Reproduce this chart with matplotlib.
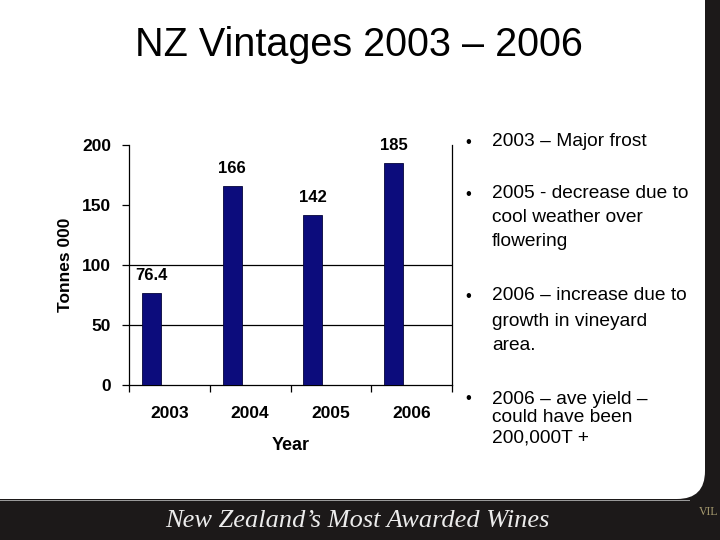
import matplotlib
matplotlib.use("Agg")
import matplotlib.pyplot as plt
from matplotlib.patches import FancyBboxPatch, Rectangle
from matplotlib.transforms import IdentityTransform

years = ["2003", "2004", "2005", "2006"]
tonnes = [76.4, 166, 142, 185]
value_labels = ["76.4", "166", "142", "185"]
y_ticks = [0, 50, 100, 150, 200]
grid_values = [50, 100]

title = "NZ Vintages 2003 \u2013 2006"
bullets = [
    ["2003 \u2013 Major frost"],
    ["2005 - decrease due to", "cool weather over", "flowering"],
    ["2006 \u2013 increase due to", "growth in vineyard", "area."],
    ["2006 \u2013 ave yield \u2013", "could have been", "200,000T +"],
]
bullet_line_y = [
    [142],
    [194, 217, 242],
    [296, 322, 345],
    [399, 418, 438],
]
footer = "New Zealand\u2019s Most Awarded Wines"

W, H = 720, 540
DARK = "#1c1919"
fig = plt.figure(figsize=(7.2, 5.4), dpi=100)
fig.patch.set_facecolor(DARK)

# white slide area with rounded bottom-right corner (pixel coordinates)
ident = IdentityTransform()
white = FancyBboxPatch((-60, 41), 765, 620, boxstyle="round,pad=0,rounding_size=28",
                       transform=ident, facecolor="white", edgecolor="none", zorder=-2)
fig.patches.append(white)
line = Rectangle((0, 39), 690, 1.5, transform=ident, facecolor="#9a9a9a",
                 edgecolor="none", zorder=-2)
fig.patches.append(line)

def fx(x):
    return x / W

def fy(y):
    return 1 - y / H

SANS = ["Liberation Sans", "DejaVu Sans"]

# Chart
ax = fig.add_axes([fx(129), fy(385), fx(452) - fx(129), fy(145) - fy(385)])
ax.set_zorder(2)
ax.set_facecolor("white")
ax.set_xlim(0, 4)
ax.set_ylim(0, 200)
pos = [i + 0.278 for i in range(len(years))]
ax.bar(pos, tonnes, width=0.235, color="#0c0c7c", edgecolor="#05053a",
       linewidth=0.6, zorder=3)
for p, v, lab in zip(pos, tonnes, value_labels):
    ax.annotate(lab, (p, v), xytext=(0, 12.5), textcoords="offset points",
                ha="center", va="center", fontsize=12, fontweight="bold",
                family=SANS, color="black")
for g in grid_values:
    ax.axhline(g, color="black", linewidth=0.9, zorder=1)
ax.spines["top"].set_visible(False)
for s in ["left", "bottom", "right"]:
    ax.spines[s].set_linewidth(0.9)
ax.set_yticks(y_ticks)
ax.set_yticklabels([str(t) for t in y_ticks], fontsize=12.5, fontweight="bold",
                   family=SANS)
ax.tick_params(axis="y", length=5, width=0.9, pad=8)
ax.set_xticks([0, 1, 2, 3, 4])
ax.set_xticklabels([])
ax.tick_params(axis="x", length=5, width=0.9)
ax.set_xticks([i + 0.5 for i in range(len(years))], minor=True)
ax.set_xticklabels(years, minor=True, fontsize=12.5, fontweight="bold", family=SANS)
ax.tick_params(axis="x", which="minor", length=0, pad=15)
ax.set_xlabel("Year", fontsize=13, fontweight="bold", family=SANS, labelpad=12)
ax.set_ylabel("Tonnes 000", fontsize=12.5, fontweight="bold", family=SANS, labelpad=6)

# Title
fig.text(fx(359), fy(45), title, ha="center", va="center", fontsize=28.5,
         family=SANS, color="black")

# Bullets
for lines, ys in zip(bullets, bullet_line_y):
    fig.text(fx(465), fy(ys[0]), "\u2022", ha="left", va="center", fontsize=12,
             family=SANS, color="black")
    for t, y in zip(lines, ys):
        fig.text(fx(492), fy(y), t, ha="left", va="center", fontsize=13.8,
                 family=SANS, color="black")

# Footer
fig.text(fx(357), fy(521), footer, ha="center", va="center", fontsize=19,
         family=["Liberation Serif", "DejaVu Serif"], style="italic", color="#ececec")
fig.text(fx(718), fy(512), "VIL", ha="right", va="center", fontsize=8.5,
         family=["Liberation Serif", "DejaVu Serif"], color="#a89c70")

fig.savefig("out.png", dpi=100, facecolor=fig.get_facecolor())
